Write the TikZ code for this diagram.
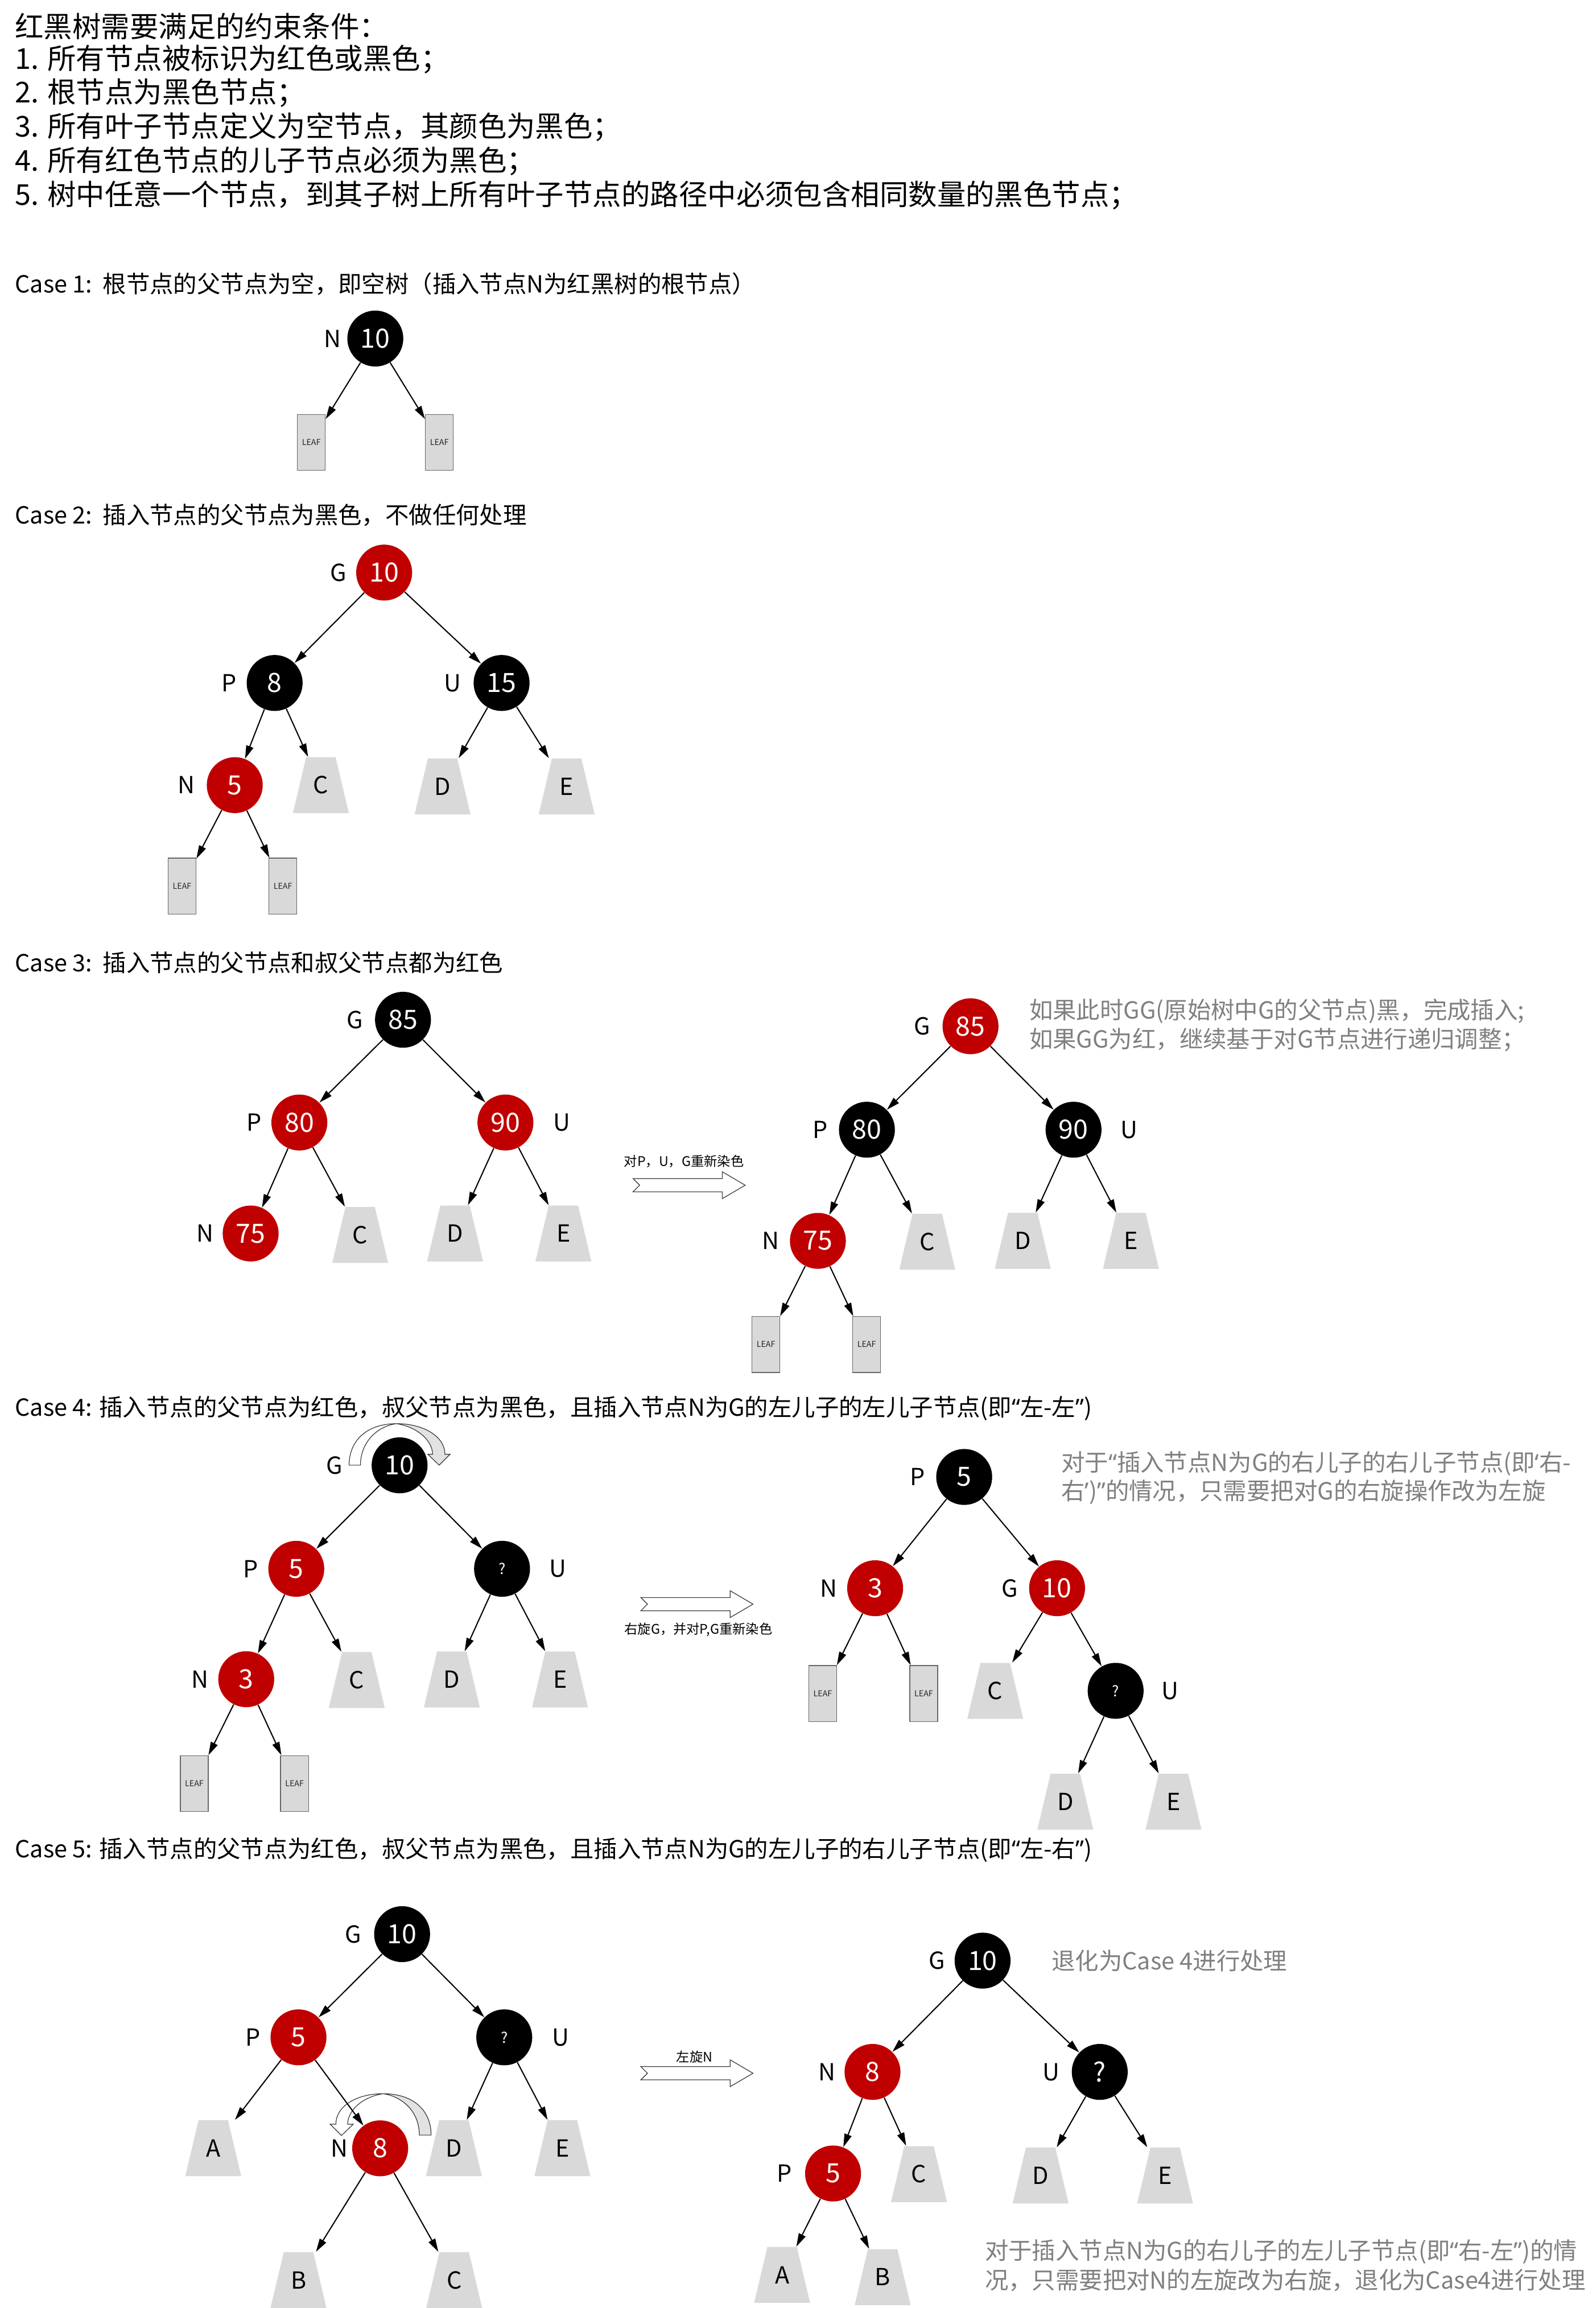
\documentclass[tikz,border=0pt]{standalone}
\usepackage{fontspec}
\setmainfont{Noto Sans CJK SC}
\newfontfamily\qf{Noto Sans}
\usetikzlibrary{arrows.meta}
\definecolor{rbred}{HTML}{C00000}
\definecolor{tzgray}{HTML}{D9D9D9}
\definecolor{notegray}{HTML}{808080}
\definecolor{rotgray}{HTML}{E2E2E2}
\newcommand\trapnode[4]{%
  \fill[tzgray] ({#2-10},{#3-19}) -- ({#2+10},{#3-19}) -- ({#2+19},{#3+19}) -- ({#2-19},{#3+19}) -- cycle;
  \node[tzbox] (#1) at (#2,#3) {#4};}
\newcommand\blockarrow[2]{%
  \draw[barrow] (#1,{#2-4.5}) -- ({#1+60.7},{#2-4.5}) -- ({#1+60.7},{#2-9.1}) -- ({#1+76.2},#2) -- ({#1+60.7},{#2+9.1}) -- ({#1+60.7},{#2+4.5}) -- (#1,{#2+4.5}) -- ({#1+4.5},#2) -- cycle;}
\newcommand\myldq{{\qf “}}
\newcommand\myrdq{{\qf ”}}
\newcommand\mylsq{{\qf ‘}}
\newcommand\myrsq{{\qf ’}}
\begin{document}
\begin{tikzpicture}[x=1pt,y=-1pt,
  rn/.style={circle, fill=rbred, text=white, minimum size=38pt, inner sep=0pt, font=\fontsize{18}{18}\selectfont},
  bn/.style={circle, fill=black, text=white, minimum size=38pt, inner sep=0pt, font=\fontsize{18}{18}\selectfont},
  qn/.style={font=\fontsize{10}{10}\selectfont},
  lbl/.style={inner sep=0pt, font=\fontsize{16}{16}\selectfont},
  tzbox/.style={rectangle, minimum width=38pt, minimum height=38pt, inner sep=0pt, font=\fontsize{16}{16}\selectfont},
  leaf/.style={rectangle, draw=black!60, line width=0.5pt, fill=tzgray, minimum width=19pt, minimum height=38pt, inner sep=0pt, font=\fontsize{5.5}{5.5}\selectfont, text=black!85},
  treeedge/.style={-{Triangle[length=9pt,width=5pt]}, line width=0.8pt},
  barrow/.style={draw=black!75, fill=white, line width=0.5pt},
  rotline/.style={draw=black!80, line width=0.45pt},
  hdr/.style={anchor=west, inner sep=0pt, font=\fontsize{19.5}{19.5}\selectfont},
  ttl/.style={anchor=west, inner sep=0pt, font=\fontsize{16}{16}\selectfont},
  arrcap/.style={inner sep=0pt, font=\fontsize{9}{9}\selectfont},
  notetxt/.style={anchor=west, inner sep=0pt, text=notegray, font=\fontsize{16}{16}\selectfont}
]
\useasboundingbox[fill=white] (0,0) rectangle (1084,1568);

% ---------- header ----------
\node[hdr] (h1) at (10,17.8) {红黑树需要满足的约束条件：};
\node[hdr] (h2) at (10,40.4) {1. 所有节点被标识为红色或黑色；};
\node[hdr] (h3) at (10,63.3) {2. 根节点为黑色节点；};
\node[hdr] (h4) at (10,86.3) {3. 所有叶子节点定义为空节点，其颜色为黑色；};
\node[hdr] (h5) at (10,109.5) {4. 所有红色节点的儿子节点必须为黑色；};
\node[hdr] (h6) at (10,132.6) {5. 树中任意一个节点，到其子树上所有叶子节点的路径中必须包含相同数量的黑色节点；};

% ---------- Case 1 ----------
\node[ttl] (t1) at (10,193) {Case 1:~~根节点的父节点为空，即空树（插入节点N为红黑树的根节点）};
\node[lbl] (n1l) at (226,230) {N};
\node[bn] (a1) at (255,230) {10};
\node[leaf] (l1a) at (211.5,300.5) {LEAF};
\node[leaf] (l1b) at (298.5,300.5) {LEAF};
\draw[treeedge] (a1) -- (l1a);
\draw[treeedge] (a1) -- (l1b);

% ---------- Case 2 ----------
\node[ttl] (t2) at (10,350) {Case 2:~~插入节点的父节点为黑色，不做任何处理};
\node[lbl] (g2l) at (230,389) {G};
\node[rn] (g2) at (261,389) {10};
\node[lbl] (p2l) at (155.5,464) {P};
\node[bn] (p2) at (186.6,464) {8};
\node[lbl] (u2l) at (307.5,464) {U};
\node[bn] (u2) at (340.8,464) {15};
\node[lbl] (n2l) at (126.6,533.4) {N};
\node[rn] (n2) at (159.5,533.4) {5};
\trapnode{c2}{218}{533.4}{C}
\trapnode{d2}{300.7}{534.3}{D}
\trapnode{e2}{385}{534.3}{E}
\node[leaf] (l2a) at (123.7,602) {LEAF};
\node[leaf] (l2b) at (192.2,602) {LEAF};
\draw[treeedge] (g2) -- (p2);
\draw[treeedge] (g2) -- (u2);
\draw[treeedge] (p2) -- (n2);
\draw[treeedge] (p2) -- (c2);
\draw[treeedge] (u2) -- (d2);
\draw[treeedge] (u2) -- (e2);
\draw[treeedge] (n2) -- (l2a);
\draw[treeedge] (n2) -- (l2b);

% ---------- Case 3 ----------
\node[ttl] (t3) at (10,654) {Case 3:~~插入节点的父节点和叔父节点都为红色};
\node[lbl] (g3l) at (241,692.8) {G};
\node[bn] (g3) at (273.8,692.8) {85};
\node[lbl] (p3l) at (172.5,762.6) {P};
\node[rn] (p3) at (203.4,762.6) {80};
\node[rn] (u3) at (343.4,762.6) {90};
\node[lbl] (u3l) at (381.6,762.6) {U};
\node[lbl] (n3l) at (139.3,838) {N};
\node[rn] (n3) at (170.3,838) {75};
\trapnode{c3}{244.7}{839}{C}
\trapnode{d3}{309.2}{838}{D}
\trapnode{e3}{382.8}{838}{E}
\draw[treeedge] (g3) -- (p3);
\draw[treeedge] (g3) -- (u3);
\draw[treeedge] (p3) -- (n3);
\draw[treeedge] (p3) -- (c3);
\draw[treeedge] (u3) -- (d3);
\draw[treeedge] (u3) -- (e3);

\node[arrcap] (cap3) at (464.7,788.9) {对P，U，G重新染色};
\blockarrow{430.1}{805.2}

\node[lbl] (g3rl) at (626.6,697.2) {G};
\node[rn] (g3r) at (659.4,697.2) {85};
\node[lbl] (p3rl) at (557.3,767.5) {P};
\node[bn] (p3r) at (589,767.5) {80};
\node[bn] (u3r) at (729.4,767.5) {90};
\node[lbl] (u3rl) at (767,767.5) {U};
\node[lbl] (n3rl) at (523.6,843) {N};
\node[rn] (n3r) at (555.7,843) {75};
\trapnode{c3r}{630}{843.6}{C}
\trapnode{d3r}{694.9}{843}{D}
\trapnode{e3r}{768.4}{843}{E}
\node[leaf] (l3a) at (520.4,913.4) {LEAF};
\node[leaf] (l3b) at (588.8,913.4) {LEAF};
\draw[treeedge] (g3r) -- (p3r);
\draw[treeedge] (g3r) -- (u3r);
\draw[treeedge] (p3r) -- (n3r);
\draw[treeedge] (p3r) -- (c3r);
\draw[treeedge] (u3r) -- (d3r);
\draw[treeedge] (u3r) -- (e3r);
\draw[treeedge] (n3r) -- (l3a);
\draw[treeedge] (n3r) -- (l3b);
\node[notetxt] (note3a) at (699.2,687) {如果此时GG(原始树中G的父节点)黑，完成插入;};
\node[notetxt] (note3b) at (699.2,706.5) {如果GG为红，继续基于对G节点进行递归调整；};

% ---------- Case 4 ----------
\node[ttl] (t4) at (10,957) {Case 4: 插入节点的父节点为红色，叔父节点为黑色，且插入节点N为G的左儿子的左儿子节点(即\myldq 左-左\myrdq)};
\path[rotline, fill=white] (237.2,995.4) .. controls (237.2,978) and (250,967.2) .. (269.4,967.2) .. controls (256,969) and (244.9,980) .. (244.9,995.4) -- cycle;
\path[rotline, fill=rotgray] (269.4,967.2) .. controls (288,967.2) and (302.3,976) .. (302.3,988) -- (305.8,988) -- (298.4,995.4) -- (290.7,988) -- (293.9,988) .. controls (293.9,979) and (284,969.5) .. (269.4,967.2) -- cycle;
\node[lbl] (g4l) at (227.2,995.5) {G};
\node[bn] (g4) at (271.5,995.5) {10};
\node[lbl] (p4l) at (170.2,1065.8) {P};
\node[rn] (p4) at (201.3,1065.8) {5};
\node[bn, qn] (u4) at (341.1,1065.8) {?};
\node[lbl] (u4l) at (379,1065.8) {U};
\node[lbl] (n4l) at (136,1140.8) {N};
\node[rn] (n4) at (167.3,1140.8) {3};
\trapnode{c4}{242.4}{1141.4}{C}
\trapnode{d4}{307}{1141}{D}
\trapnode{e4}{380.5}{1141}{E}
\node[leaf] (l4a) at (132,1211.7) {LEAF};
\node[leaf] (l4b) at (200.1,1211.7) {LEAF};
\draw[treeedge] (g4) -- (p4);
\draw[treeedge] (g4) -- (u4);
\draw[treeedge] (p4) -- (n4);
\draw[treeedge] (p4) -- (c4);
\draw[treeedge] (u4) -- (d4);
\draw[treeedge] (u4) -- (e4);
\draw[treeedge] (n4) -- (l4a);
\draw[treeedge] (n4) -- (l4b);

\blockarrow{435.4}{1089.8}
\node[arrcap] (cap4) at (474.5,1107) {右旋G，并对P,G重新染色};

\node[lbl] (p4rl) at (623.5,1003.4) {P};
\node[bn] (p4r) at (655.1,1003.4) {5};
\node[lbl] (n4rl) at (563,1079) {N};
\node[rn] (n4r) at (594.6,1079) {3};
\node[lbl] (g4rl) at (686.2,1079) {G};
\node[rn] (g4r) at (718.2,1079) {10};
\node[leaf] (l4c) at (559,1150.5) {LEAF};
\node[leaf] (l4d) at (627.6,1150.5) {LEAF};
\trapnode{c4r}{676.2}{1148.7}{C}
\node[bn, qn] (u4r) at (758,1148.7) {?};
\node[lbl] (u4rl) at (795,1148.7) {U};
\trapnode{d4r}{723.8}{1224}{D}
\trapnode{e4r}{797.3}{1224}{E}
\draw[treeedge] (p4r) -- (n4r);
\draw[treeedge] (p4r) -- (g4r);
\draw[treeedge] (n4r) -- (l4c);
\draw[treeedge] (n4r) -- (l4d);
\draw[treeedge] (g4r) -- (c4r);
\draw[treeedge] (g4r) -- (u4r);
\draw[treeedge] (u4r) -- (d4r);
\draw[treeedge] (u4r) -- (e4r);
\node[notetxt] (note4a) at (721,994.2) {对于\myldq 插入节点N为G的右儿子的右儿子节点(即\mylsq 右-};
\node[notetxt] (note4b) at (721,1013.6) {右\myrsq)\myrdq 的情况，只需要把对G的右旋操作改为左旋};

% ---------- Case 5 ----------
\node[ttl] (t5) at (10,1257) {Case 5: 插入节点的父节点为红色，叔父节点为黑色，且插入节点N为G的左儿子的右儿子节点(即\myldq 左-右\myrdq)};
\path[rotline, fill=rotgray] (292.9,1450.5) .. controls (292.9,1433) and (280,1422.4) .. (260.4,1422.4) .. controls (274,1424.5) and (284.9,1435) .. (284.9,1450.5) -- cycle;
\path[rotline, fill=white] (260.4,1422.4) .. controls (242,1422.4) and (228.2,1431) .. (228.2,1443.1) -- (224.3,1443.1) -- (232,1450.8) -- (240,1443.1) -- (236.2,1443.1) .. controls (236.2,1434) and (246,1424.5) .. (260.4,1422.4) -- cycle;
\node[lbl] (g5l) at (239.8,1314) {G};
\node[bn] (g5) at (273.2,1314) {10};
\node[lbl] (p5l) at (171.7,1384.1) {P};
\node[rn] (p5) at (202.8,1384.1) {5};
\node[bn, qn] (u5) at (342.6,1384.1) {?};
\node[lbl] (u5l) at (380.8,1384.1) {U};
\trapnode{a5}{144.9}{1459.4}{A}
\node[lbl] (n5l) at (230.5,1459.5) {N};
\node[rn] (n5) at (258.3,1459.5) {8};
\trapnode{d5}{308.4}{1459.4}{D}
\trapnode{e5}{382.1}{1459.4}{E}
\trapnode{b5}{202.8}{1549}{B}
\trapnode{c5}{308.6}{1549}{C}
\draw[treeedge] (g5) -- (p5);
\draw[treeedge] (g5) -- (u5);
\draw[treeedge] (p5) -- (a5);
\draw[treeedge] (p5) -- (n5);
\draw[treeedge] (u5) -- (d5);
\draw[treeedge] (u5) -- (e5);
\draw[treeedge] (n5) -- (b5);
\draw[treeedge] (n5) -- (c5);

\node[arrcap] (cap5) at (471.9,1397.4) {左旋N};
\blockarrow{435.4}{1408.5}

\node[lbl] (g5rl) at (636.5,1332) {G};
\node[bn] (g5r) at (667.6,1332) {10};
\node[notetxt] (note5a) at (714.3,1332) {退化为Case 4进行处理};
\node[lbl] (n5rl) at (561.7,1407.6) {N};
\node[rn] (n5r) at (592.8,1407.6) {8};
\node[lbl] (u5rl) at (714.3,1407.6) {U};
\node[bn] (u5r) at (747.2,1407.6) {?};
\node[lbl] (p5rl) at (532.8,1476.6) {P};
\node[rn] (p5r) at (566,1476.6) {5};
\trapnode{c5r}{624.4}{1477}{C}
\trapnode{d5r}{707}{1478}{D}
\trapnode{e5r}{791.6}{1478}{E}
\trapnode{a5r}{531.4}{1545.5}{A}
\trapnode{b5r}{599.7}{1547}{B}
\draw[treeedge] (g5r) -- (n5r);
\draw[treeedge] (g5r) -- (u5r);
\draw[treeedge] (n5r) -- (p5r);
\draw[treeedge] (n5r) -- (c5r);
\draw[treeedge] (u5r) -- (d5r);
\draw[treeedge] (u5r) -- (e5r);
\draw[treeedge] (p5r) -- (a5r);
\draw[treeedge] (p5r) -- (b5r);
\node[notetxt] (note5b) at (669,1529.8) {对于插入节点N为G的右儿子的左儿子节点(即\myldq 右-左\myrdq)的情};
\node[notetxt] (note5c) at (669,1549) {况，只需要把对N的左旋改为右旋，退化为Case4进行处理};
\end{tikzpicture}
\end{document}
